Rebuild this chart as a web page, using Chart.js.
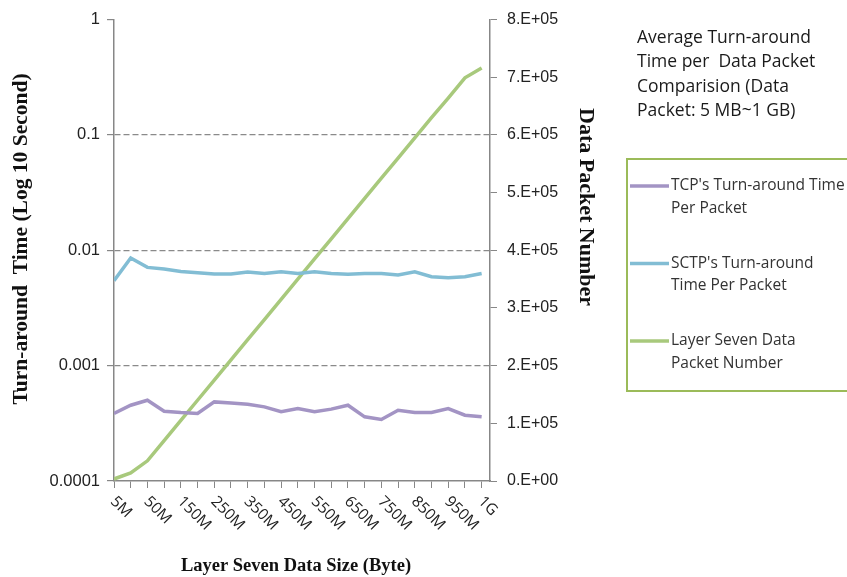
<!DOCTYPE html>
<html>
<head>
<meta charset="utf-8">
<script src="https://cdn.jsdelivr.net/npm/chart.js@4.4.0/dist/chart.umd.min.js"></script>
<style>
  body { margin: 0; background: #fff; }
</style>
</head>
<body>
<canvas id="turnChart" width="847" height="577"></canvas>
<script>
// categories (data packet size)
const sizeLabels = ['5M', '20M', '50M', '100M', '150M', '200M', '250M', '300M', '350M', '400M', '450M', '500M',
    '550M', '600M', '650M', '700M', '750M', '800M', '850M', '900M', '950M', '1000M', '1G'];

// turn-around time per packet (seconds, log axis)
const tcpTime = [0.000385, 0.000454, 0.000501, 0.000403, 0.000392, 0.000385, 0.000485, 0.000475, 0.000463, 0.000439,
    0.000398, 0.000425, 0.000398, 0.00042, 0.000454, 0.00036, 0.000341, 0.00041, 0.000392, 0.000392, 0.000425,
    0.000372, 0.00036];
const sctpTime = [0.00546, 0.00857, 0.00711, 0.00688, 0.00656, 0.00639, 0.00623, 0.00623, 0.00648, 0.0063, 0.0065,
    0.0063, 0.0065, 0.0063, 0.0062, 0.0063, 0.0063, 0.0061, 0.0065, 0.0059, 0.00579, 0.0059, 0.0063];

// layer seven data packet number (right axis)
const packetCount = [3500, 14000, 35000, 70000, 105000, 140000, 175000, 210000, 245000, 280000, 315000, 350000,
    385000, 420000, 455000, 490000, 525000, 560000, 595000, 630000, 664000, 699000, 716000];

const timeTicks = [0.0001, 0.001, 0.01, 0.1, 1];

const seriesNames = [["TCP's Turn-around Time", 'Per Packet'], ["SCTP's Turn-around", 'Time Per Packet'],
    ['Layer Seven Data', 'Packet Number']];
const titleLines = ['Average Turn-around', 'Time per  Data Packet', 'Comparision (Data', 'Packet: 5 MB~1 GB)'];

const purple = '#a394c4';
const blue = '#82bdd4';
const green = '#a8c97c';
const axisGray = '#878787';
const sansFont = '"Open Sans", Lato, sans-serif';

function toPoints(values) {
    return values.map(function(v, i) { return { x: i, y: v }; });
}

// draws rotated category labels, axis titles, chart title and legend box
const extrasPlugin = {
    id: 'extras',
    afterDraw: function(chart) {
        const c = chart.ctx;
        const xs = chart.scales.x;
        c.save();
        c.fillStyle = '#222';
        c.font = '15.5px ' + sansFont;
        c.textAlign = 'left';
        c.textBaseline = 'middle';
        sizeLabels.forEach(function(lbl, i) {
            if (i % 2 !== 0) return;
            const px = xs.getPixelForValue(i);
            c.save();
            c.translate(px - 1, 499);
            c.rotate(Math.PI / 4);
            c.fillText(lbl, 0, 0);
            c.restore();
        });

        // axis titles
        c.fillStyle = '#111';
        c.textAlign = 'center';
        c.font = 'bold 18.5px "Liberation Serif", serif';
        c.fillText('Layer Seven Data Size (Byte)', 296, 566);

        c.font = 'bold 21.5px "Liberation Serif", serif';
        c.save();
        c.translate(21, 239);
        c.rotate(-Math.PI / 2);
        c.fillText('Turn-around  Time (Log 10 Second)', 0, 0);
        c.restore();

        c.font = 'bold 22px "Liberation Serif", serif';
        c.save();
        c.translate(586, 207);
        c.rotate(Math.PI / 2);
        c.fillText('Data Packet Number', 0, 0);
        c.restore();

        // chart title
        c.textAlign = 'left';
        c.fillStyle = '#1a1a1a';
        c.font = '17.5px ' + sansFont;
        titleLines.forEach(function(t, i) {
            c.fillText(t, 637, 38 + i * 24.5);
        });

        // legend
        c.strokeStyle = '#9bbb59';
        c.lineWidth = 2;
        c.strokeRect(627, 159, 240, 232);
        const colors = [purple, blue, green];
        c.font = '15.5px ' + sansFont;
        c.fillStyle = '#333';
        seriesNames.forEach(function(lines, i) {
            const y = 186 + i * 77.5;
            c.strokeStyle = colors[i];
            c.lineWidth = 3.5;
            c.beginPath();
            c.moveTo(630, y);
            c.lineTo(669, y);
            c.stroke();
            c.fillText(lines[0], 671, y);
            c.fillText(lines[1], 671, y + 22.5);
        });
        c.restore();
    }
};

const ctx = document.getElementById('turnChart').getContext('2d');
const turnChart = new Chart(ctx, {
    type: 'line',
    data: {
        datasets: [{
            label: seriesNames[0].join(' '),
            data: toPoints(tcpTime),
            borderColor: purple,
            yAxisID: 'y'
        }, {
            label: seriesNames[1].join(' '),
            data: toPoints(sctpTime),
            borderColor: blue,
            yAxisID: 'y'
        }, {
            label: seriesNames[2].join(' '),
            data: toPoints(packetCount),
            borderColor: green,
            yAxisID: 'y1'
        }]
    },
    options: {
        responsive: false,
        animation: false,
        elements: {
            line: { borderWidth: 3.5, tension: 0, fill: false },
            point: { radius: 0, hoverRadius: 0 }
        },
        layout: { padding: { top: 18, left: 0, right: 0, bottom: 0 } },
        plugins: {
            legend: { display: false },
            tooltip: { enabled: false }
        },
        scales: {
            x: {
                type: 'linear',
                min: 0,
                max: 22.5,
                afterFit: function(s) { s.height = 96; },
                ticks: { display: false, stepSize: 1, maxTicksLimit: 40, includeBounds: false, autoSkip: false },
                grid: { drawOnChartArea: false, tickLength: 7, tickColor: axisGray },
                border: { color: axisGray, width: 1.5 }
            },
            y: {
                type: 'logarithmic',
                position: 'left',
                min: 0.0001,
                max: 1,
                afterFit: function(s) { s.width = 114; },
                afterBuildTicks: function(s) {
                    s.ticks = timeTicks.map(function(v) { return { value: v, major: true }; });
                },
                ticks: {
                    color: '#222',
                    padding: 7,
                    font: { family: '"Liberation Sans", Arial, sans-serif', size: 16.5 },
                    callback: function(v) { return String(v); }
                },
                grid: {
                    color: function(c) {
                        const v = c.tick && c.tick.value;
                        return (v === 1 || v === 0.0001) ? 'rgba(0,0,0,0)' : '#8a8a8a';
                    },
                    lineWidth: 1.2,
                    tickLength: 7,
                    tickColor: axisGray,
                    tickBorderDash: []
                },
                border: { color: axisGray, width: 1.5, dash: [6, 3] }
            },
            y1: {
                type: 'linear',
                position: 'right',
                min: 0,
                max: 800000,
                afterFit: function(s) { s.width = 357; },
                ticks: {
                    stepSize: 100000,
                    color: '#222',
                    padding: 10,
                    font: { family: '"Liberation Sans", Arial, sans-serif', size: 16 },
                    callback: function(v) {
                        return v === 0 ? '0.E+00' : (v / 100000).toFixed(0) + '.E+05';
                    }
                },
                grid: { drawOnChartArea: false, tickLength: 7, tickColor: axisGray },
                border: { color: axisGray, width: 1.5 }
            }
        }
    },
    plugins: [extrasPlugin]
});
</script>
</body>
</html>
